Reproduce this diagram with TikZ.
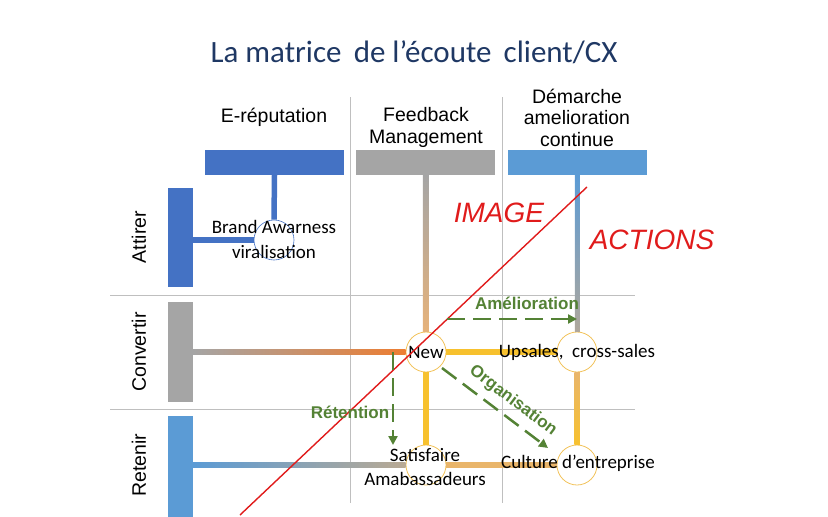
\documentclass[tikz,border=0pt]{standalone}
\usepackage{fontspec}
\setmainfont{Carlito}
\newfontfamily\arialfont{Liberation Sans}
\usetikzlibrary{arrows.meta}

\definecolor{cxblue}{HTML}{4472C4}
\definecolor{cxgray}{HTML}{A5A5A5}
\definecolor{cxlight}{HTML}{5B9BD5}
\definecolor{cxorange}{HTML}{ED7D31}
\definecolor{cxyellow}{HTML}{F7C12E}
\definecolor{cxtan}{HTML}{E9B56A}
\definecolor{cxpeach}{HTML}{E6B27A}
\definecolor{cxring}{HTML}{F2C35B}
\definecolor{cxgreen}{HTML}{548235}
\definecolor{cxred}{HTML}{E01B1B}
\definecolor{cxtitle}{HTML}{1F3864}
\definecolor{cxsep}{HTML}{BFBFBF}

\tikzset{
  hbar/.style={rectangle, minimum width=139pt, minimum height=25pt, inner sep=0pt},
  vbar/.style={rectangle, minimum width=25pt, inner sep=0pt},
  hub/.style={circle, draw=cxring, line width=0.8pt, fill=white, minimum size=40pt, inner sep=0pt},
  head/.style={font=\arialfont\fontsize{19.5}{21.5}\selectfont, align=center},
  rowlabel/.style={font=\arialfont\fontsize{19.5}{21}\selectfont, rotate=90},
  txt/.style={font=\fontsize{19}{24.5}\selectfont, align=center, inner sep=0pt},
  flow/.style={cxgreen, line width=2.5pt, dash pattern=on 18pt off 8pt, -{Triangle[length=9pt,width=9pt]}},
  flowlabel/.style={text=cxgreen, font=\arialfont\bfseries\fontsize{17}{19}\selectfont, inner sep=0pt},
  bigred/.style={text=cxred, font=\arialfont\itshape\fontsize{28}{30}\selectfont},
  link/.style={line width=5.5pt},
}

\begin{document}
\begin{tikzpicture}[x=1pt, y=-1pt]

    \useasboundingbox (0,0) rectangle (828,517);

    % Title
    \node[font=\fontsize{31}{36}\selectfont, text=cxtitle] (title) at (414,52) {La matrice \,de l’écoute \,client/CX};

    % Grid lines between the columns and the rows
    \draw[cxsep, line width=0.8pt] (350,97) -- (350,503);
    \draw[cxsep, line width=0.8pt] (502,97) -- (502,503);
    \draw[cxsep, line width=0.8pt] (110,295) -- (635,295);
    \draw[cxsep, line width=0.8pt] (110,409) -- (635,409);

    % Column bars and their headings
    \node[hbar, fill=cxblue] (erep) at (274.5,162.5) {};
    \node[hbar, fill=cxgray] (feed) at (425.5,162.5) {};
    \node[hbar, fill=cxlight] (dema) at (577.5,162.5) {};
    \node[head] (herep) at (274,117) {E-réputation};
    \node[head] (hfeed) at (426,127.5) {Feedback\\Management};
    \node[head] (hdema) at (577,117.5) {Démarche\\amelioration\\continue};

    % Row bars and their labels
    \node[vbar, fill=cxblue, minimum height=99pt] (attirer) at (180.5,237.5) {};
    \node[vbar, fill=cxgray, minimum height=100pt] (convertir) at (180.5,352) {};
    \node[vbar, fill=cxlight, minimum height=104pt] (retenir) at (180.5,468) {};
    \node[rowlabel] (lattirer) at (139,237) {Attirer};
    \node[rowlabel] (lconvertir) at (139,352) {Convertir};
    \node[rowlabel] (lretenir) at (139,465) {Retenir};

    % Hubs where the rows meet the columns
    \node[hub, draw=cxblue, line width=0.6pt] (brand) at (274,240) {};
    \node[hub] (new) at (426,352) {};
    \node[hub] (upsales) at (577,352) {};
    \node[hub] (satis) at (426,465) {};
    \node[hub] (culture) at (577,465) {};

    % Links from the bars to the hubs
    \draw[link, cxblue] (erep.south) -- (brand.north);
    \draw[link, cxblue] (attirer.east |- brand.west) -- (brand.west);
    \shade[left color=cxgray, right color=cxorange] ([yshift=-2.75pt]convertir.east) rectangle ([yshift=2.75pt]new.west);
    \coordinate (ret) at (retenir.east |- satis.west);
    \shade[left color=cxlight, right color=cxgray!70!cxtan] ([yshift=-2.75pt]ret) rectangle ([yshift=2.75pt]satis.west);
    \shade[top color=cxgray, bottom color=cxpeach] ([xshift=-2.75pt]feed.south) rectangle ([xshift=2.75pt]new.north);
    \shade[top color=cxlight, bottom color=cxgray!85!cxtan] ([xshift=-2.75pt]dema.south) rectangle ([xshift=2.75pt]upsales.north);

    % Links between the hubs
    \draw[link, cxyellow] (new) -- (upsales);
    \draw[link, cxyellow] (new) -- (satis);
    \draw[link, cxtan] (satis) -- (culture);
    \shade[top color=cxtan, bottom color=cxyellow] ([xshift=-2.75pt]upsales.south) rectangle ([xshift=2.75pt]culture.north);

    % Hub texts
    \node[txt] (tbrand) at (274,239.5) {Brand Awarness\\viralisation};
    \node[txt] (tnew) at (426,352) {New};
    \node[txt] (tups) at (577,352) {Upsales, \ cross-sales};
    \node[txt] (tsat) at (425,467) {Satisfaire\\Amabassadeurs};
    \node[txt] (tcul) at (578,463) {Culture d’entreprise};

    % Red divide between IMAGE and ACTIONS
    \coordinate (redA) at (240,515);
    \coordinate (redB) at (587,187);
    \draw[cxred, line width=1.4pt] (redA) -- (redB);
    \node[bigred] (image) at (499,213) {IMAGE};
    \node[bigred] (actions) at (652,240) {ACTIONS};

    % Green dashed flows
    \coordinate (amA) at (447,319);
    \coordinate (amB) at (577,319);
    \draw[flow] (amA) -- (amB);
    \node[flowlabel] (lam) at (527,303) {Amélioration};

    \coordinate (reA) at (393,352);
    \coordinate (reB) at (393,445);
    \draw[flow] (reA) -- (reB);
    \node[flowlabel] (lre) at (350,412) {Rétention};

    \coordinate (orA) at (442,368);
    \coordinate (orB) at (548,448);
    \draw[flow] (orA) -- (orB);
    \node[flowlabel, rotate=-37] (lor) at (513,401) {Organisation};

\end{tikzpicture}
\end{document}
